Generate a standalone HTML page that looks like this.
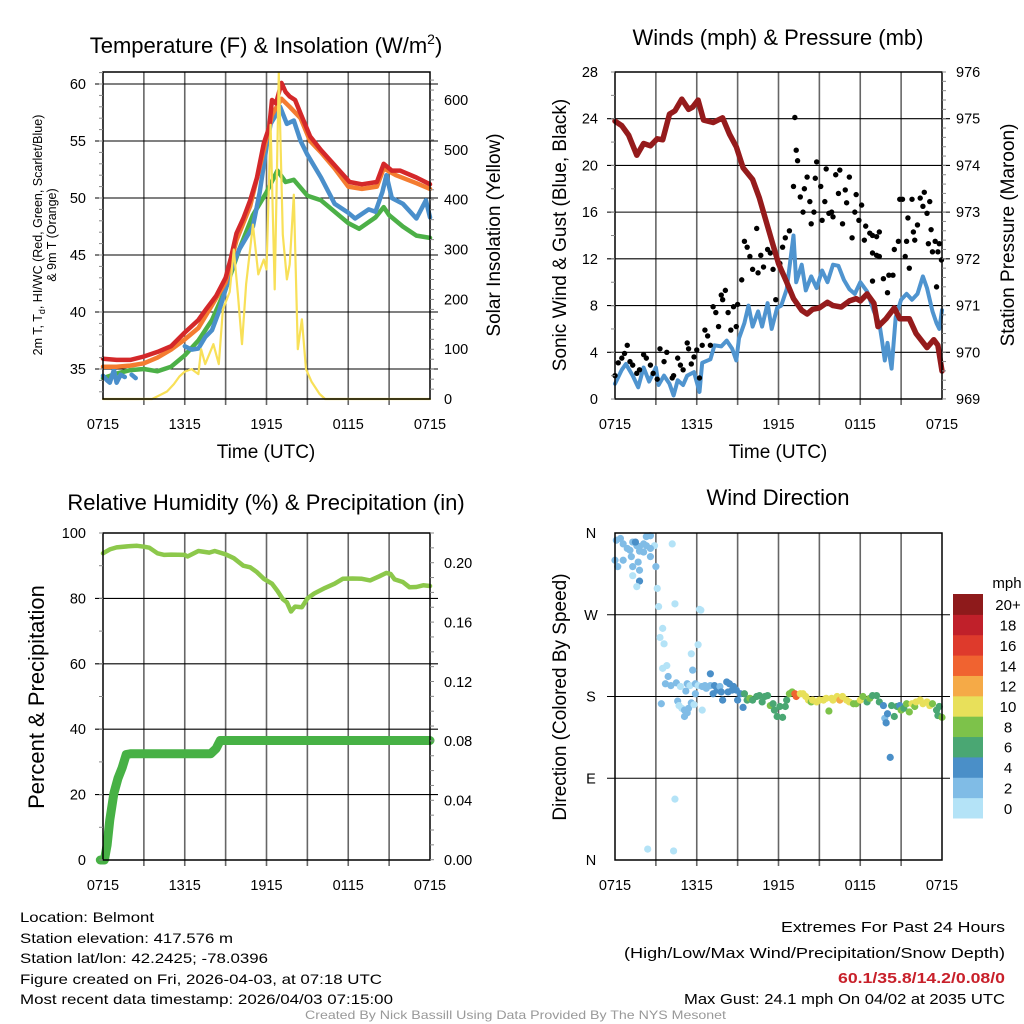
<!DOCTYPE html>
<html><head><meta charset="utf-8"><style>
html,body{margin:0;padding:0;background:#fff}
svg{display:block;font-family:"Liberation Sans",sans-serif}
</style></head><body>
<svg id="svg" width="1024" height="1024" viewBox="0 0 1024 1024" xmlns="http://www.w3.org/2000/svg">
<g id="layer-grid"></g>
<g id="layer-marks"></g>
<g id="layer-frame"></g>
<g font-size="22" fill="#000" text-anchor="middle">
<text x="266" y="53">Temperature (F) &amp; Insolation (W/m<tspan font-size="14" dy="-9">2</tspan><tspan dy="9">)</tspan></text>
<text x="778" y="45">Winds (mph) &amp; Pressure (mb)</text>
<text x="266" y="510">Relative Humidity (%) &amp; Precipitation (in)</text>
<text x="778" y="505">Wind Direction</text>
</g>
<g font-size="19" text-anchor="middle">
<text x="266" y="458">Time (UTC)</text>
<text x="778" y="458">Time (UTC)</text>
<text transform="translate(500,235) rotate(-90)">Solar Insolation (Yellow)</text>
<text transform="translate(566,235) rotate(-90)">Sonic Wind &amp; Gust (Blue, Black)</text>
<text transform="translate(1014,235) rotate(-90)">Station Pressure (Maroon)</text>
<text transform="translate(566,697) rotate(-90)">Direction (Colored By Speed)</text>
<text transform="translate(44,697) rotate(-90)" font-size="22">Percent &amp; Precipitation</text>
</g>
<g font-size="12.5" text-anchor="middle">
<text transform="translate(42,235) rotate(-90)">2m T, T<tspan font-size="9" dy="3">d</tspan><tspan dy="-3">, HI/WC (Red, Green, Scarlet/Blue)</tspan></text>
<text transform="translate(56,235) rotate(-90)">&amp; 9m T (Orange)</text>
</g>
<g font-size="14">
<text x="20" y="922" textLength="134" lengthAdjust="spacingAndGlyphs">Location: Belmont</text>
<text x="20" y="943" textLength="213" lengthAdjust="spacingAndGlyphs">Station elevation: 417.576 m</text>
<text x="20" y="963" textLength="248" lengthAdjust="spacingAndGlyphs">Station lat/lon: 42.2425; -78.0396</text>
<text x="20" y="984" textLength="362" lengthAdjust="spacingAndGlyphs">Figure created on Fri, 2026-04-03, at 07:18 UTC</text>
<text x="20" y="1004" textLength="373" lengthAdjust="spacingAndGlyphs">Most recent data timestamp: 2026/04/03 07:15:00</text>
</g>
<g font-size="15">
<text x="781" y="932" textLength="224" lengthAdjust="spacingAndGlyphs">Extremes For Past 24 Hours</text>
<text x="624" y="958" textLength="381" lengthAdjust="spacingAndGlyphs">(High/Low/Max Wind/Precipitation/Snow Depth)</text>
<text x="838" y="983" textLength="167" lengthAdjust="spacingAndGlyphs" fill="#c8202a" font-weight="bold">60.1/35.8/14.2/0.08/0</text>
<text x="684" y="1004" textLength="321" lengthAdjust="spacingAndGlyphs">Max Gust: 24.1 mph On 04/02 at 2035 UTC</text>
</g>
<text x="305" y="1019" font-size="12" fill="#999" textLength="421" lengthAdjust="spacingAndGlyphs">Created By Nick Bassill Using Data Provided By The NYS Mesonet</text>
<text x="1007" y="588" font-size="15" text-anchor="middle">mph</text>
</svg>
<script>
// ---------- data ----------
const timeTicks=["0715","1315","1915","0115","0715"];
const tempTicks=[35,40,45,50,55,60];
const insolTicks=[0,100,200,300,400,500,600];
const windTicks=[0,4,8,12,16,20,24,28];
const presTicks=[969,970,971,972,973,974,975,976];
const rhTicks=[0,20,40,60,80,100];
const precipTicks=[0.00,0.04,0.08,0.12,0.16,0.20];
const dirTicks=["N","E","S","W","N"];
const speedBins=["0","2","4","6","8","10","12","14","16","18","20+"];
const speedColors=["#b4e3f7","#80bce6","#4a8fc8","#4aa773","#7dc24a","#e8e05a","#f5aa47","#f06330","#de3a2c","#c0202a","#8e1a1b"];

const redH=[0,1,2,3,4,5,6,7,7.6,8.3,9,9.4,9.8,10.3,10.8,11.3,11.8,12.2,12.4,12.7,13.1,13.4,13.7,14.1,14.5,15.2,16,16.9,18.1,19,20.1,20.6,21.2,21.8,23,24];
const redT=[35.9,35.8,35.8,36.1,36.5,37,38.2,39.3,40.3,41.4,43,44.8,46.9,48.2,49.8,51.8,54.8,56.2,58.6,58.3,60.1,59.3,58.9,58.6,57.4,55.4,54.2,53,51.4,51.2,51.4,53,52.4,52.4,51.8,51.2];
const orgH=[0,1,2,3,4,5,6,7,8,9,9.8,10.8,11.8,12.4,13.1,13.7,14.5,15.2,16,17,18,19,20.1,20.6,21.5,23,24];
const orgT=[35.2,35.2,35.3,35.5,36,36.7,37.6,38.6,40.6,42.6,46.3,49.3,54.2,57.3,58.7,58,57,55,54,52.6,51,50.8,51,52.6,52,51.3,50.8];
const grnH=[0,1,2,3,4,5,6,7,8,9,10,11,12,12.8,13.4,14,15,16,17,18,18.8,20,20.6,21,22,23,24];
const grnT=[34.2,34.6,34.9,35,34.8,35.2,36.2,37.5,39.3,42,45.5,48.5,50.5,52.4,51.4,51.6,50.2,49.8,48.8,47.8,47.3,48.3,49.2,48.5,47.5,46.7,46.5];
const bluH=[0,0.3,0.5,0.8,1,1.3,1.6,null,2.1,2.4,null,6,6.5,7,7.5,8,8.5,9,9.5,10,10.5,11,11.5,12,12.3,12.7,13,13.5,14,14.5,15,16,17,18,18.5,19.5,20,20.5,20.8,21.2,22,23,23.7,24];
const bluT=[34.4,34,33.8,34.9,33.8,34.5,34.3,null,34.5,34.2,null,37,36.7,36.8,37.8,38.4,40,42,44,45.5,46.5,47.5,50.5,54.5,56.5,57.3,58,56.5,56.8,55,53.8,51.8,49.5,48.7,48.2,49,48.8,50.5,52,50,49.5,48.2,49.8,48.3];
const solH=[0,3.6,4.2,4.7,5.2,5.6,6,6.5,7,7.2,7.5,8.1,8.5,8.8,9.3,9.6,9.9,10.2,10.5,11,11.4,11.8,12,12.3,12.6,12.9,13.2,13.5,13.7,14,14.3,14.6,14.9,15.3,15.9,16.3,24];
const solW=[0,0,8,15,30,45,55,60,50,100,70,110,70,180,215,300,210,110,230,350,250,280,260,550,220,655,330,240,270,410,100,160,60,35,10,0,0];

const presH=[0,0.5,1,1.6,2.1,2.6,3.1,3.5,4,4.4,4.9,5.4,5.7,6.1,6.5,7.2,7.9,8.4,8.9,9.4,10.1,10.6,11.1,11.6,12,12.6,13.1,13.7,14.1,14.5,15,15.6,16,16.6,17.2,17.7,18,18.5,19,19.3,19.9,20.5,20.9,21.6,22.1,22.9,23.4,23.7,24];
const presMb=[974.95,974.85,974.65,974.22,974.47,974.42,974.57,974.55,975.1,975.17,975.42,975.2,975.25,975.4,974.97,974.92,975.02,974.67,974.4,973.95,973.7,973.3,972.8,972.3,971.9,971.5,971.15,970.9,970.82,970.92,970.95,971.07,971,970.97,971.1,971.15,971.1,971.25,971.05,970.55,970.72,970.95,970.72,970.72,970.4,970.1,970.27,970.15,969.6];
const windH=[0,0.5,0.8,1.3,1.7,2.1,2.5,3,3.2,3.6,4,4.3,4.6,5,5.3,5.8,6.2,6.4,7,7.3,7.8,8.2,8.6,8.9,9.1,9.5,9.8,10.1,10.5,10.8,11.2,11.5,11.9,12.2,12.6,13.1,13.3,13.7,14,14.4,14.8,15.2,15.6,16,16.4,16.8,17.2,17.6,18,18.5,19,19.4,19.6,19.8,20,20.3,20.6,21,21.4,21.8,22.2,22.6,22.9,23.3,23.6,23.8,24];
const windV=[1.3,2.5,3,2,1,2.7,1.5,2.7,1.2,2,1.3,0.3,1.6,1.2,2,2.3,0.6,3.1,3.4,4.6,4.5,5,4.3,3.3,5.2,6.5,8,6.2,7.5,6.2,8.2,6,7.8,8,9.4,14,10,11.5,9.3,10.5,9.5,11,10,11.5,11.4,10.2,9.4,9,10,9.2,7.5,6.5,5,3.3,4.8,2.6,7,8.5,9,8.5,9,10.5,9.5,7.5,6.5,6,7.6];
const gustH=[0,.24,.5,.7,.9,1.1,1.3,1.6,1.8,2.1,2.3,2.6,2.8,3.1,3.3,3.6,3.8,4.2,4.3,4.6,4.8,5,5.3,5.4,5.6,5.8,6,6.2,6.4,6.6,6.8,7,7.2,7.4,7.6,7.8,7.9,8.1,8.3,8.5,8.7,8.9,9,9.3,9.5,9.7,9.9,10.1,10.4,10.5,10.7,10.9,11.2,11.4,11.6,11.8,12.1,12.3,12.5,12.8,13.1,13.2,13.3,13.4,13.6,13.8,13.9,14.1,14.3,14.4,14.6,14.7,14.8,15.1,15.2,15.4,15.5,15.7,15.9,16,16.2,16.4,16.5,16.7,16.9,17,17.2,17.4,17.6,17.7,17.9,18.1,18.3,18.4,18.7,18.9,19.2,19.4,18.9,19.2,19.4,18.9,19.7,20,20.1,20.4,20.5,20.8,20.9,21.1,21.3,21.4,21.5,21.6,21.8,21.9,22,22.2,22.4,22.6,22.7,22.9,23,23.1,23.2,23.3,23.5,23.6,23.7,23.8,23.96];
const gustV=[2,3.1,3.5,3.9,4.6,3.2,2.9,2.2,2.5,3.8,3.5,2.9,2.2,1.7,4.3,3.2,4,1.8,2,3.5,2.9,2.5,4.8,4.3,3,3.6,4.2,1.8,4.6,5.9,5.4,4.6,7.9,7.4,6.2,8.9,8.5,9.3,7.4,5.9,7.9,6.2,8.1,10.2,13.5,13,12.2,11.1,14.6,10.8,12.3,11.3,12.8,12.5,11.1,8.5,11.6,13,13.8,14.4,18.2,24.1,21.3,20.4,17.3,16,18,19,16.9,15,16,18.9,20.3,18.2,15.3,16.9,19.7,15.9,16,15.6,19.2,17.6,19.6,15,17.9,16.8,19,13.8,16,17.5,15.3,16.6,13.6,14.8,14.2,14,13.9,14.3,12.5,12.3,12.2,10.1,10.3,9.1,10.6,10.6,12.8,13.5,17.1,17.1,12.2,13.5,15.5,11.2,17.1,14.3,13.6,14.9,17.2,16.5,17.7,15.9,13.3,16.9,14.5,12.6,13.5,9.6,12.6,13.3,11.9];

const rhH=[0,0.5,1,2,2.5,3,3.4,4,4.5,5,6,6.2,7,7.8,8.2,9,9.6,10.3,10.8,11.3,11.8,12.4,12.8,13.2,13.5,13.8,14.1,14.6,15,15.5,16.3,17,17.6,18.3,19,19.6,20.3,20.8,21.1,21.4,22,22.5,23,23.5,24];
const rhV=[93.8,95,95.6,96,96.1,95.8,95.5,93.8,93.3,93.4,93.3,92.8,94.5,94,94.5,93.5,92.3,90,89.5,88,86,84.5,82.3,79.8,78.8,76,77.5,77.3,80,81.5,83.2,84.5,86,86.1,86,85.5,86.8,87.8,87.5,85.8,85,83.4,83.5,84,83.8];
const pcpH=[-0.2,0.1,0.3,0.5,0.8,1.1,1.4,1.7,2,7.9,8.3,8.6,24];
const pcpV=[0,0,0.01,0.027,0.045,0.055,0.062,0.071,0.0715,0.0715,0.075,0.0805,0.0805];

const dirH=[.1,.4,.6,.9,1.1,1.3,1.6,1.8,2.1,2.3,2.6,2.9,0,.2,.6,1.2,1.3,1.5,1.7,1.8,1.8,1.6,1.3,1.8,2.1,2.3,2.6,2.6,3,3.1,3.2,4.2,4.4,6.2,6.3,3.3,3.5,3.6,3.8,3.5,6.1,5.6,5.7,3.9,3.7,4.1,4.5,4.8,5.3,5.5,5.9,6.1,3.4,4.6,4.7,5.2,4.9,5.1,5.4,5.3,5.1,5.6,5.8,5.9,6.4,6.4,6.6,6.7,7,7,7.2,7.3,7.5,7.7,7.8,7.9,8.2,8.3,8.4,8.6,8.7,8.9,9,9.2,9.4,9.5,9.7,9.9,10.1,10.4,10.6,10.8,11,11.2,11.4,11.6,11.7,11.9,12.3,12.1,12.5,12.6,12.8,13,13.2,13.3,13.6,13.8,14,14.2,14.4,14.5,14.8,15,15.3,15.5,15.7,15.9,16,16.3,16.5,16.7,17,17.2,17.5,17.7,18,18.2,18.5,18.7,18.9,19.2,19.4,19.7,19.8,19.9,20,20.2,20.3,20.5,20.7,20.9,21,21.2,21.4,21.6,21.8,22,22.1,22.4,22.6,22.9,23.1,23.3,23.6,23.7,23.8,24,4.4,2.4,4.3];
const dirDeg=[352,354,348,343,341,350,346,345,348,356,357,346,330,323,330,334,323,350,328,319,307,301,313,340,339,346,334,343,323,299,279,348,282,276,275,245,255,238,214,211,237,227,209,202,194,192,195,191,194,192,194,192,172,175,170,186,167,165,167,162,158,173,171,183,165,191,192,189,192,205,183,192,187,191,185,176,196,185,194,187,191,187,176,183,168,183,176,178,176,180,181,174,180,181,170,172,165,158,157,169,169,176,183,185,183,180,183,183,180,176,174,176,174,176,176,178,164,178,176,180,176,180,176,174,172,172,176,180,174,178,181,181,174,170,156,151,161,113,170,158,169,170,165,167,172,163,172,169,174,176,172,174,170,172,165,159,169,157,67,12,10];
const dirSpd=[2,2,2,2,2,2,2,2,2,2,2,1,2,2,2,2,2,4,2,2,4,1,1,2,2,2,2,2,2,1,1,1,1,1,1,1,1,1,1,1,1,1,2,2,2,2,2,1,2,1,2,1,3,3,1,3,1,2,2,2,3,2,1,2,1,2,2,2,3,4,4,4,4,2,4,4,4,4,4,4,4,4,4,5,4,7,7,8,7,7,6,6,7,6,8,6,6,6,6,6,6,7,8,8,15,14,11,10,11,10,8,10,10,11,10,10,8,11,10,11,12,10,10,10,8,8,10,8,6,8,6,6,6,4,2,4,4,4,6,6,6,4,8,7,8,8,10,8,10,10,10,10,10,8,6,6,6,8,1,1,1];

// ---------- helpers ----------
const NS="http://www.w3.org/2000/svg";
const G=document.getElementById('layer-grid'),M=document.getElementById('layer-marks'),F=document.getElementById('layer-frame');
function mk(parent,tag,attrs){const e=document.createElementNS(NS,tag);for(const k in attrs)e.setAttribute(k,attrs[k]);parent.appendChild(e);return e;}
const P1={x0:103,x1:430,y0:72,y1:399},P2={x0:615,x1:942,y0:72,y1:399},P3={x0:103,x1:430,y0:533,y1:860},P4={x0:615,x1:942,y0:533,y1:860};
const xs=(P,h)=>P.x0+h/24*(P.x1-P.x0);
const yTemp=v=>369-(v-35)*11.4;
const ySol=v=>399-v*0.4983;
const yWind=v=>399-v*11.68;
const yPres=p=>399-(p-969)*46.71;
const yRh=v=>860-v*3.27;
const yPcp=v=>860-v/0.04*59.4;
const yDir=d=>860-d*327/360;

function grid(P,hvals,name){
  for(let i=1;i<8;i++){const x=P.x0+i*(P.x1-P.x0)/8;
    const l=mk(G,'line',{x1:x,x2:x,y1:P.y0,y2:P.y1+6,stroke:'#666','stroke-width':1.6});
    
    }
  hvals.forEach(y=>{const l=mk(G,'line',{x1:P.x0-8,x2:P.x1+8,y1:y,y2:y,stroke:'#000','stroke-width':1.1});
    
    });
  const r=mk(F,'rect',{x:P.x0,y:P.y0,width:P.x1-P.x0,height:P.y1-P.y0,fill:'none',stroke:'#000','stroke-width':1.5});
  
  
  timeTicks.forEach((t,i)=>{const x=P.x0+i*(P.x1-P.x0)/4;
    const tx=mk(F,'text',{x:x,y:P.y1+30,'font-size':14.5,'text-anchor':'middle'});tx.textContent=t;
    
    });
}
function label(P,side,y,txt,name,fs){
  const tx=mk(F,'text',{x:side==='l'?P.x0-17:P.x1+14,y:y+5,'font-size':fs||14.5,'text-anchor':side==='l'?'end':'start'});tx.textContent=txt;
  
  
}
function minor(P,side,y0,y1,step){for(let y=y0;y<=y1+0.1;y+=step){const x=side==='l'?P.x0:P.x1;
  const l=mk(F,'line',{x1:x,x2:side==='l'?x-4:x+4,y1:y,y2:y,stroke:'#888','stroke-width':1});
  
  }}
function path(pts,color,w,name){
  let d='',pen=false;pts.forEach(p=>{if(p===null){pen=false;return;}d+=(pen?'L':'M')+p[0].toFixed(1)+','+p[1].toFixed(1);pen=true;});
  const e=mk(M,'path',{d:d,fill:'none',stroke:color,'stroke-width':w,'stroke-linejoin':'round','stroke-linecap':'round'});
  
  return e;}
function series(P,H,V,yf){return H.map((h,i)=>h===null||V[i]===null?null:[xs(P,h),yf(V[i])]);}

// ---------- panel 1 ----------
grid(P1,tempTicks.map(yTemp),'temp');
tempTicks.forEach(v=>label(P1,'l',yTemp(v),String(v),'temp-y-tick-label'));
insolTicks.forEach(v=>label(P1,'r',ySol(v),String(v),'insolation-y-tick-label'));
minor(P1,'r',ySol(640),399,9.97);minor(P1,'l',yTemp(61),399,11.4);
path(series(P1,grnH,grnT,yTemp),'#4cb047',4.5,'dewpoint-line');
path(series(P1,bluH,bluT,yTemp),'#4a8fcb',4.5,'windchill-line');
path(series(P1,orgH,orgT,yTemp),'#f47c30',4.5,'temp-9m-line');
path(series(P1,redH,redT,yTemp),'#d4282a',4.5,'temp-2m-line');
path(series(P1,solH,solW,ySol),'#f8e058',2.2,'insolation-line');

// ---------- panel 2 ----------
grid(P2,windTicks.slice(1,7).map(yWind),'wind');
windTicks.forEach(v=>label(P2,'l',yWind(v),String(v),'wind-y-tick-label'));
presTicks.forEach(v=>label(P2,'r',yPres(v),String(v),'pressure-y-tick-label'));
minor(P2,'r',72,399,9.34);minor(P2,'l',72,399,23.36);
path(series(P2,windH,windV,yWind),'#4f94cf',4,'sonic-wind-line');
gustH.forEach((h,i)=>{const c=mk(M,'circle',{cx:xs(P2,h),cy:yWind(gustV[i]),r:2.7,fill:'#000'});
  
  });
path(series(P2,presH,presMb,yPres),'#951b1c',5.5,'pressure-line');

// ---------- panel 3 ----------
grid(P3,rhTicks.slice(1,5).map(yRh),'rh');
rhTicks.forEach(v=>label(P3,'l',yRh(v),String(v),'rh-y-tick-label'));
precipTicks.forEach(v=>label(P3,'r',yPcp(v),v.toFixed(2),'precip-y-tick-label'));
minor(P3,'r',533,860,14.85);minor(P3,'l',533,860,32.7);
path(series(P3,rhH,rhV,yRh),'#8cc84b',4.5,'rh-line');
path(series(P3,pcpH,pcpV,yPcp),'#47b145',9,'precip-line');

// ---------- panel 4 ----------
grid(P4,[1,2,3].map(i=>yDir(i*90)),'direction');
dirTicks.forEach((t,i)=>{const tx=mk(F,'text',{x:591,y:yDir(i*90)+5,'font-size':14.5,'text-anchor':'middle'});tx.textContent=t;
  
  });
dirH.forEach((h,i)=>{const b=Math.min(10,Math.floor(dirSpd[i]/2));
  const c=mk(M,'circle',{cx:xs(P4,h),cy:yDir(dirDeg[i]),r:3.6,fill:speedColors[b]});
  
  });
const cbH=224/11;
speedBins.forEach((lab,i)=>{const y=818-(i+1)*cbH;
  const r=mk(F,'rect',{x:953,y:y,width:30,height:cbH+0.5,fill:speedColors[i]});
  
  
  const tx=mk(F,'text',{x:1008,y:y+cbH/2+6,'font-size':15,'text-anchor':'middle'});tx.textContent=lab;
  
  });
</script>
</body></html>
